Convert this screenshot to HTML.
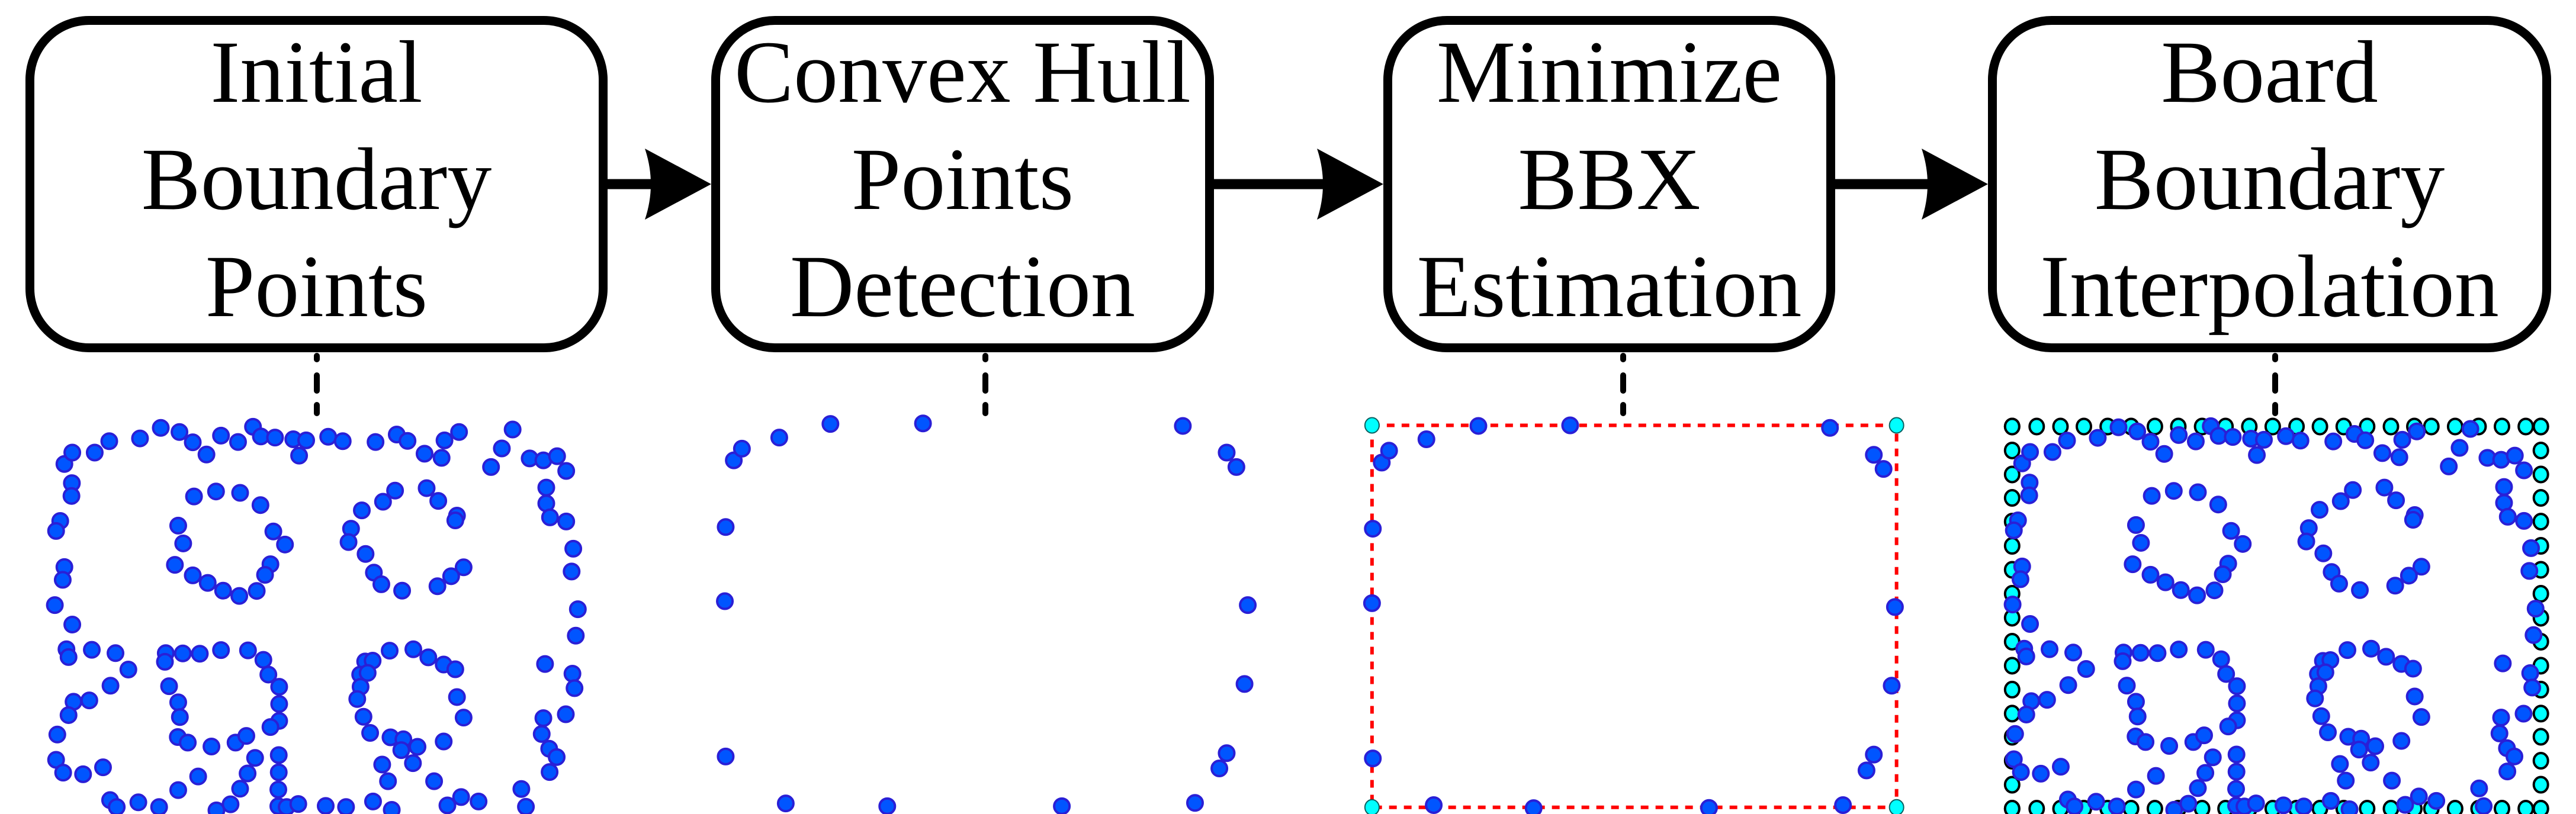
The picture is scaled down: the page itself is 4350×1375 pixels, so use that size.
<!DOCTYPE html>
<html><head><meta charset="utf-8"><style>
html,body{margin:0;padding:0;background:#fff;}
svg{display:block;}
text{font-family:"Liberation Serif","Times New Roman",serif;font-size:150px;fill:#000;text-anchor:middle;}
</style></head><body>
<svg id="fig" width="4350" height="1375" viewBox="0 0 4350 1375" xmlns="http://www.w3.org/2000/svg">
<g id="boxes"></g>
<g id="arrows"></g>
<g id="conns"></g>
<g id="p1"></g>
<g id="p2"></g>
<g id="p3"></g>
<g id="p4"></g>
</svg>
<script>
// step boxes
const boxLefts=[43,1201,2336,3357];
const boxRights=[1026,2050,3099,4308];
const boxLabels=[["Initial","Boundary","Points"],["Convex Hull","Points","Detection"],["Minimize","BBX","Estimation"],["Board","Boundary","Interpolation"]];
const connX=[535,1664,2741,3842];
// panel 1 boundary points (zoom-space coords)
const p1x=[155,174,228,263,337,387,432,464,497,532,573,609,628,662,706,737,720,790,825,904,955,981,1022,1063,1070,1105,1182,1208,1234,1275,1308,1341,1363,
173,172,145,135,155,151,132,174,160,165,
467,520,578,627,429,441,658,686,421,651,638,464,500,537,576,618,
951,1027,922,1055,871,1100,1096,845,839,880,900,1116,1086,918,968,1053,
1315,1315,1324,1363,1380,1376,1391,1386,1312,1378,1383,1362,1308,1304,1322,1340,1323,1255,1266,
221,278,309,266,215,177,165,138,135,152,200,248,265,281,333,383,429,477,
399,397,440,481,532,597,634,646,672,672,672,651,407,429,433,428,452,509,567,593,614,671,671,596,578,670,555,521,670,690,718,784,833,
879,897,867,885,868,860,875,891,938,995,1031,1068,1096,1100,1116,940,971,1005,966,994,1068,920,934,1045,898,943,1077,1110,1152];
const p1y=[285,244,244,203,193,155,170,207,251,183,206,151,186,190,196,200,255,187,203,206,179,202,248,263,200,170,296,229,161,265,272,257,310,
354,400,490,526,656,702,793,863,952,980,
402,384,389,433,507,571,528,575,648,646,684,686,713,741,760,742,
381,372,421,418,452,471,488,518,566,609,676,657,689,718,741,725,
370,427,477,492,590,672,808,903,1005,1040,1092,1186,1200,1257,1310,1340,1394,1455,1519,
954,966,1025,1083,1136,1141,1189,1259,1350,1396,1402,1377,1495,1520,1503,1520,1459,1410,
966,997,967,968,955,956,990,1043,1087,1149,1210,1232,1085,1143,1196,1268,1288,1302,1288,1264,1343,1333,1395,1399,1454,1457,1510,1532,1517,1520,1509,1516,1520,
996,993,1043,1037,1087,1131,1195,1253,957,952,981,1007,1024,1124,1198,1269,1276,1303,1315,1362,1284,1367,1427,1427,1500,1530,1514,1484,1500];
// hull points (zoom-space coords)
const hullx=[65,75,121,184,298,618,672,684,55,54,698,694,55,672,663,129,254,469,633];
const hully=[272,230,190,141,139,148,244,296,512,779,793,1077,1338,1326,1381,1507,1517,1517,1505];
const bbxx=[863,872,918,982,1095,1415,1469,1481,852,851,1495,1491,852,1469,1460,927,1050,1266,1431];
const bbxy=[280,237,196,148,146,155,252,303,518,786,800,1083,1345,1331,1388,1513,1524,1523,1513];
const rectX=[851,1497], rectY=[146,1521];
// interpolated boundary grid (zoom-space coords)
const gridTopX=[75,140,203,265,328,390,453,515,578,640,703,765,828,890,953,1015,1078,1140,1185,1248,1310,1372,1435,1475];
const gridSideY=[90,180,270,358,447,538,628,718,808,898,988,1078,1168,1255,1345,1435,1525];
const gridLeft=75, gridRight=1475;

const NS="http://www.w3.org/2000/svg";
function mk(tag,attrs,parent){const e=document.createElementNS(NS,tag);for(const k in attrs)e.setAttribute(k,attrs[k]);parent.appendChild(e);return e;}
const s1x=v=>v/1.4255, s1y=v=>650+v/2.131;
const s2x=v=>1150+v/0.7293, s2y=v=>650+v/2.131;
const s4x=v=>3350+v/1.568, s4y=v=>680+v/2.223;

const gB=document.getElementById('boxes');
boxLefts.forEach((l,i)=>{
  const r=boxRights[i];
  const rc=mk('rect',{x:l+7.5,y:34.5,width:r-l-15,height:553,rx:100,ry:100,fill:'#fff',stroke:'#000','stroke-width':15},gB);
  
  
  const cx=(l+r)/2;
  boxLabels[i].forEach((t,j)=>{
    const tx=mk('text',{x:cx,y:172+181*j},gB);tx.textContent=t;
    
    
  });
});
const gA=document.getElementById('arrows');
for(let i=0;i<3;i++){
  const x0=boxRights[i], x1=boxLefts[i+1], cy=311;
  const ln=mk('line',{x1:x0,y1:cy,x2:x1-60,y2:cy,stroke:'#000','stroke-width':17},gA);
  
  
  const hx=x1-112;
  const hd=mk('path',{d:`M${hx},${cy-60} L${x1},${cy} L${hx},${cy+60} Q${hx+20},${cy} ${hx},${cy-60} Z`,fill:'#000'},gA);
  
  
}
const gC=document.getElementById('conns');
connX.forEach((x,i)=>{
  [[597,611],[630,664],[680,702]].forEach(s=>{
    const d=mk('line',{x1:x,y1:s[0]+4,x2:x,y2:s[1]-4,stroke:'#000','stroke-width':10,'stroke-linecap':'round'},gC);
    
    
  });
});
function dot(g,x,y,name){const c=mk('circle',{cx:x,cy:y,r:13,fill:'#0055ff',stroke:'#2a1fd6','stroke-width':4},g);
  
  }
function cyan(g,x,y){const c=mk('ellipse',{cx:x,cy:y,rx:12,ry:13,fill:'#00ffff',stroke:'#000','stroke-width':4},g);
  
  }

const g1=document.getElementById('p1'), g2=document.getElementById('p2'), g3=document.getElementById('p3'), g4=document.getElementById('p4');
gridTopX.forEach(v=>{cyan(g4,s4x(v),s4y(gridSideY[0]));cyan(g4,s4x(v),s4y(gridSideY[gridSideY.length-1]));});
gridSideY.forEach(v=>{cyan(g4,s4x(gridLeft),s4y(v));cyan(g4,s4x(gridRight),s4y(v));});
p1x.forEach((v,i)=>{dot(g1,s1x(v),s1y(p1y[i]),'boundary-point');dot(g4,s1x(v)+3306,s1y(p1y[i])-1,'boundary-point');});
hullx.forEach((v,i)=>dot(g2,s2x(v),s2y(hully[i]),'hull-point'));
const rx0=s2x(rectX[0]),rx1=s2x(rectX[1]),ry0=s2y(rectY[0]),ry1=s2y(rectY[1]);
const rr=mk('rect',{x:rx0,y:ry0,width:rx1-rx0,height:ry1-ry0,fill:'none',stroke:'#ff0000','stroke-width':6,'stroke-dasharray':'13 12'},g3);


bbxx.forEach((v,i)=>dot(g3,s2x(v),s2y(bbxy[i]),'hull-point'));
[[rx0,ry0],[rx1,ry0],[rx0,ry1],[rx1,ry1]].forEach(p=>{const c=mk('ellipse',{cx:p[0],cy:p[1],rx:12,ry:13,fill:'#00ffff',stroke:'#0a6060','stroke-width':2},g3);
  
  });
</script>
</body></html>
